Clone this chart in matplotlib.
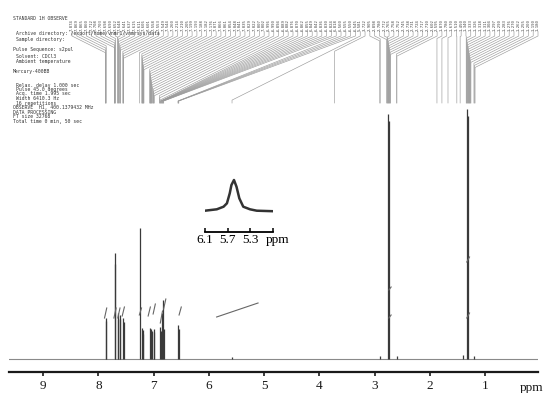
import matplotlib.pyplot as plt
import numpy as np

# 1H NMR spectrum (CDCl3, 400 MHz) - peak positions (ppm) and heights (px above baseline)
peak_ppm = [7.869, 7.862, 7.708, 7.700, 7.648, 7.640, 7.611, 7.603, 7.553, 7.546,
            7.245, 7.210, 7.198, 7.185, 7.065, 7.050, 7.035, 7.002, 6.992,
            6.885, 6.870, 6.852, 6.836, 6.822, 6.555, 6.548,
            5.58, 2.90, 2.755, 2.745, 2.60, 1.40, 1.318, 1.305, 1.20]
peak_height = [41, 38, 106, 95, 46, 40, 44, 40, 41, 37,
               131, 31, 29, 25, 31, 30, 28, 30, 27,
               32, 28, 46, 59, 30, 34, 30,
               2, 3, 245, 238, 3, 4, 250, 243, 3]

# expansion 6.1 - 4.9 ppm (broad NH/OH signal)
inset_ppm = [6.10, 5.89, 5.77, 5.71, 5.66, 5.63, 5.585, 5.54, 5.49, 5.42, 5.30, 5.18, 4.90]
inset_height = [21, 22.4, 25, 28.4, 38.4, 46.7, 51.7, 45, 33.4, 25, 22.4, 21, 20.5]

# integral traces: left ppm, right ppm, left height, right height
integ_left = [7.89, 7.72, 7.65, 7.57, 7.26, 7.10, 7.01, 6.88, 6.82, 6.54, 5.86, 2.74, 2.74, 1.33, 1.33]
integ_right = [7.85, 7.68, 7.61, 7.53, 7.22, 7.06, 6.97, 6.84, 6.78, 6.50, 5.11, 2.70, 2.70, 1.28, 1.28]
integ_h_left = [41, 41, 41, 43, 44, 43, 45, 36, 50, 44, 42, 41, 69, 41, 97]
integ_h_right = [51, 51, 51, 52, 51, 52, 55, 48, 60, 52, 56, 44, 72, 46, 102]

# peak-pick labels printed across the top
label_ppm = [7.874, 7.869, 7.865, 7.860, 7.712, 7.708, 7.703, 7.698, 7.690, 7.652,
             7.648, 7.641, 7.637, 7.615, 7.611, 7.606, 7.601, 7.558, 7.553, 7.549,
             7.544, 7.260, 7.214, 7.210, 7.205, 7.199, 7.193, 7.188, 7.182, 7.176,
             7.071, 7.066, 7.061, 7.054, 7.048, 7.041, 7.035, 7.029, 7.022, 7.007,
             7.002, 6.996, 6.990, 6.894, 6.889, 6.882, 6.876, 6.870, 6.862, 6.855,
             6.849, 6.842, 6.836, 6.830, 6.824, 6.818, 6.560, 6.555, 6.550, 6.545,
             5.581, 3.722,
             2.905, 2.898, 2.780, 2.772, 2.765, 2.758, 2.752, 2.745, 2.738, 2.731,
             2.724, 2.717, 2.710, 2.602, 2.595,
             1.870, 1.780, 1.670, 1.510, 1.450,
             1.340, 1.333, 1.326, 1.318, 1.311, 1.304, 1.297, 1.290, 1.283, 1.276,
             1.270, 1.262, 1.255, 1.200, 1.190, 1.180]

header_lines = ["STANDARD 1H OBSERVE",
                "Archive directory: /export/home/vnmr1/vnmrsys/data",
                "Sample directory:",
                "Pulse Sequence: s2pul",
                "Solvent: CDCl3",
                "Ambient temperature",
                "Mercury-400BB",
                "Relax. delay 1.000 sec",
                "Pulse 45.0 degrees",
                "Acq. time 1.995 sec",
                "Width 6410.3 Hz",
                "16 repetitions",
                "OBSERVE  H1, 400.1379432 MHz",
                "DATA PROCESSING",
                "FT size 32768",
                "Total time 0 min, 50 sec"]
header_x = [13, 16, 16, 13, 16, 16, 13, 16, 16, 16, 16, 16, 13, 13, 13, 13]
header_y = [19, 34, 39, 50, 57, 62, 72, 86, 90, 94, 99, 103, 107, 112, 117, 121]

W, H = 547, 393
fig = plt.figure(figsize=(W / 100, H / 100), dpi=100)

# overlay in pixel coords for the printout text / peak label fan
over = fig.add_axes([0, 0, 1, 1])
over.set_xlim(0, W)
over.set_ylim(H, 0)
over.axis("off")

ax = fig.add_axes([9 / W, 21 / H, 529 / W, (H - 21) / H])
ax.set_xlim(9.62, 0.04)
ax.set_ylim(-13, 359)
ax.patch.set_alpha(0)
for s in ["top", "left", "right"]:
    ax.spines[s].set_visible(False)
ax.spines["bottom"].set_linewidth(1.6)
ax.spines["bottom"].set_color("#1a1a1a")
ax.set_yticks([])
ax.set_xticks(range(1, 10))
ax.tick_params(axis="x", direction="out", length=3, width=1.2, pad=2.5, colors="#1a1a1a",
               labelsize=9.5)
for t in ax.get_xticklabels():
    t.set_family("Liberation Serif")

# baseline and peaks
ax.plot([9.62, 0.04], [0, 0], color="#8a8a8a", lw=0.8)
ax.vlines(peak_ppm, 0, peak_height, color="#3a3a3a", lw=0.9)
for i in range(len(integ_left)):
    ax.plot([integ_left[i], integ_right[i]], [integ_h_left[i], integ_h_right[i]],
            color="#666666", lw=0.8)

fig.text(532 / W, 1 - 388 / H, "ppm", family="Liberation Serif", fontsize=9.5,
         ha="center", va="center", color="#1a1a1a")

# inset expansion
ins = fig.add_axes([205 / W, (H - 231.7) / H, 67.5 / W, 55 / H])
ins.set_xlim(6.1, 4.9)
ins.set_ylim(0, 55)
ins.patch.set_alpha(0)
for s in ["top", "left", "right"]:
    ins.spines[s].set_visible(False)
ins.spines["bottom"].set_linewidth(1.3)
ins.set_yticks([])
ins.set_xticks([6.1, 5.7, 5.3, 4.9])
ins.set_xticklabels(["6.1", "5.7", "5.3", ""])
ins.tick_params(axis="x", direction="in", length=3, width=1.1, pad=2, labelsize=9.5)
for t in ins.get_xticklabels():
    t.set_family("Liberation Serif")
ins.plot(inset_ppm, inset_height, color="#333333", lw=1.8)
fig.text(278 / W, 1 - 240 / H, "ppm", family="Liberation Serif", fontsize=9.5,
         ha="center", va="center")

# header text
for txt, x, y in zip(header_lines, header_x, header_y):
    over.text(x, y, txt, family="DejaVu Sans Mono", fontsize=3.4, color="#333333",
              va="center", ha="left")

# peak label fan
fig.canvas.draw()
lab_x = np.linspace(72, 538, len(label_ppm))
y_stub, y_bot = 36, 103
for lx, p in zip(lab_x, label_ppm):
    px = ax.transData.transform((p, 0))[0]
    over.text(lx, 31, "%.3f" % p, rotation=90, family="DejaVu Sans Mono", fontsize=2.9,
              color="#444444", ha="center", va="bottom")
    yd = min(y_stub + 0.5 * abs(lx - px), y_bot - 2)
    over.plot([lx, lx, px, px], [31.5, y_stub, yd, y_bot], color="#9a9a9a", lw=0.45)

fig.savefig("out.png", dpi=100)
